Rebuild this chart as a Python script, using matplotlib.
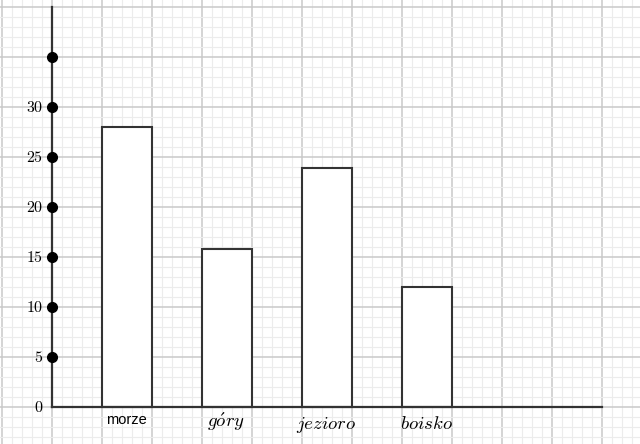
import numpy as np
import matplotlib.pyplot as plt
from matplotlib.ticker import MultipleLocator

plt.rcParams['mathtext.fontset'] = 'cm'

categories = ['morze', 'góry', 'jezioro', 'boisko']
cat_labels = ['morze', r'$g\acute{o}ry$', r'$jezioro$', r'$boisko$']
values = [28, 15.8, 23.9, 12]
y_ticks = [0, 5, 10, 15, 20, 25, 30]
dot_values = [5, 10, 15, 20, 25, 30, 35]

fig = plt.figure(figsize=(6.4, 4.44), dpi=100)
ax = fig.add_axes([0, 0, 1, 1])

# 1 x unit = 50 px, 1 y unit = 10 px, origin at pixel (52, 407)
ax.set_xlim(-52 / 50, (640 - 52) / 50)
ax.set_ylim(-(444 - 407) / 10, 407 / 10)

# squared paper
ax.xaxis.set_major_locator(MultipleLocator(1))
ax.xaxis.set_minor_locator(MultipleLocator(0.2))
ax.yaxis.set_major_locator(MultipleLocator(5))
ax.yaxis.set_minor_locator(MultipleLocator(1))
ax.grid(which='major', color='#c9c9c9', linewidth=1.1)
ax.grid(which='minor', color='#ececec', linewidth=0.8)
ax.set_axisbelow(True)
ax.tick_params(which='both', length=0, labelbottom=False, labelleft=False)
for s in ax.spines.values():
    s.set_visible(False)

# axes
ax.plot([0, 0], [0, 40], color='#333333', lw=1.6, zorder=3)
ax.plot([0, 11], [0, 0], color='#333333', lw=1.6, zorder=3)

# bars
xpos = np.arange(len(categories)) * 2 + 1.5
ax.bar(xpos, values, width=1.0, facecolor='white', edgecolor='#333333',
       linewidth=1.5, zorder=2)

# dots on the y axis
ax.plot(np.zeros(len(dot_values)), dot_values, 'o', color='black',
        markersize=7, zorder=4)

for v in y_ticks:
    ax.text(-0.17, v, '$%d$' % v, ha='right', va='center', fontsize=11.5)

# labels under the bars (first one in plain sans, others in math italic)
label_y = [-1.3, -1.5, -1.75, -1.65]
for i, lab in enumerate(cat_labels):
    if i == 0:
        ax.text(xpos[i] - 0.02, label_y[i], lab, ha='center', va='center',
                fontsize=10.5, family='Liberation Sans')
    else:
        ax.text(xpos[i] - 0.02, label_y[i], lab, ha='center', va='center',
                fontsize=13.5)

fig.savefig('out.png', dpi=100)
